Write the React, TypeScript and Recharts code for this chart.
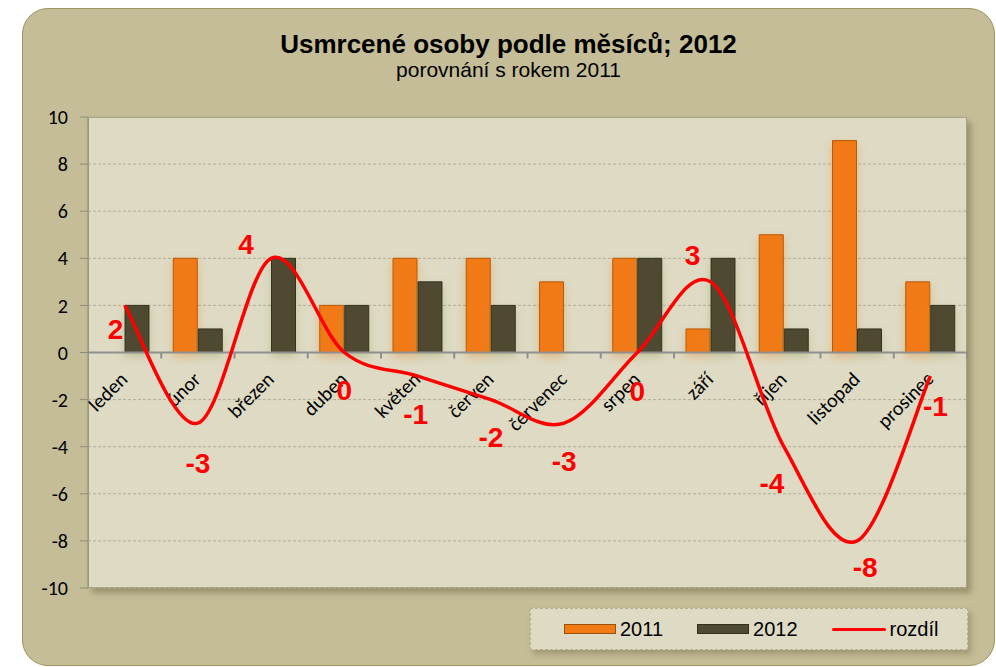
import React from "react";
import {
  ComposedChart,
  Bar,
  Line,
  XAxis,
  YAxis,
  CartesianGrid,
  ReferenceLine,
  Legend,
  LabelList,
} from "recharts";

const months = [
  "leden",
  "únor",
  "březen",
  "duben",
  "květen",
  "červen",
  "červenec",
  "srpen",
  "září",
  "říjen",
  "listopad",
  "prosinec",
];
const deaths2011 = [0, 4, 0, 2, 4, 4, 3, 4, 1, 5, 9, 3];
const deaths2012 = [2, 1, 4, 2, 3, 2, 0, 4, 4, 1, 1, 2];
const difference = [2, -3, 4, 0, -1, -2, -3, 0, 3, -4, -8, -1];
const yTicks = [-10, -8, -6, -4, -2, 0, 2, 4, 6, 8, 10];

// where each red label sits relative to its point (dx, dy)
const diffLabelShift: [number, number][] = [
  [-9, 24],
  [0, 40],
  [-25, -14],
  [0, 38],
  [-2, 38],
  [0, 38],
  [0, 38],
  [0, 39],
  [-18, -26],
  [-12, 37],
  [8, 27],
  [5, 30],
];

const data = months.map((month, i) => ({
  month,
  "2011": deaths2011[i],
  "2012": deaths2012[i],
  "rozdíl": difference[i],
}));

const CALIBRI = "Carlito, Lato, 'Open Sans', sans-serif";
const ARIAL = "'Liberation Sans', Arial, sans-serif";

// Excel-style smoothed line (Catmull-Rom as cubic beziers)
function excelSmooth(context: any) {
  let pts: number[][] = [];
  return {
    areaStart() {},
    areaEnd() {},
    lineStart() {
      pts = [];
    },
    point(x: number, y: number) {
      pts.push([+x, +y]);
    },
    lineEnd() {
      if (!pts.length) return;
      context.moveTo(pts[0][0], pts[0][1]);
      for (let i = 0; i < pts.length - 1; i++) {
        const p0 = pts[Math.max(i - 1, 0)];
        const p1 = pts[i];
        const p2 = pts[i + 1];
        const p3 = pts[Math.min(i + 2, pts.length - 1)];
        context.bezierCurveTo(
          p1[0] + (p2[0] - p0[0]) / 6,
          p1[1] + (p2[1] - p0[1]) / 6,
          p2[0] - (p3[0] - p1[0]) / 6,
          p2[1] - (p3[1] - p1[1]) / 6,
          p2[0],
          p2[1]
        );
      }
    },
  };
}

// category labels + ticks drawn along the zero line
function MonthAxis(props: any) {
  const vb = props.viewBox;
  if (!vb) return null;
  const { x, y, width } = vb;
  const band = width / months.length;
  return (
    <g>
      {months.map((m, i) => {
        const cx = x + band * (i + 0.5);
        const tx = cx + 4;
        const ty = y + 28;
        return (
          <g key={m}>
            <line
              x1={x + band * (i + 1)}
              x2={x + band * (i + 1)}
              y1={y}
              y2={y + 6}
              stroke="#8f8f8f"
              strokeWidth={2}
            />
            <text
              x={tx}
              y={ty}
              textAnchor="end"
              transform={`rotate(-45 ${tx} ${ty})`}
              fontFamily={CALIBRI}
              fontSize={20}
              fill="#000"
            >
              {m}
            </text>
          </g>
        );
      })}
    </g>
  );
}

function DiffLabel(props: any) {
  const { x, y, value, index } = props;
  const [dx, dy] = diffLabelShift[index] || [0, 38];
  return (
    <text
      x={x + dx}
      y={y + dy}
      textAnchor="middle"
      dominantBaseline="central"
      fontFamily={ARIAL}
      fontWeight="bold"
      fontSize={28}
      fill="#ff0000"
    >
      {value}
    </text>
  );
}

function LegendBox(props: any) {
  const payload = props.payload || [];
  return (
    <div
      style={{
        boxSizing: "border-box",
        width: 438,
        height: 42,
        background: "#dedac4",
        border: "1px dashed #b6b08c",
        boxShadow: "3px 4px 6px rgba(90,80,40,0.35)",
        display: "flex",
        alignItems: "center",
        paddingLeft: 33,
        fontFamily: ARIAL,
        fontSize: 20,
        color: "#000",
      }}
    >
      {payload.map((entry: any) => (
        <div
          key={entry.value}
          style={{ display: "flex", alignItems: "center", marginRight: 34 }}
        >
          {entry.type === "line" ? (
            <span
              style={{
                display: "inline-block",
                width: 54,
                height: 3,
                background: entry.color,
                borderRadius: 2,
              }}
            />
          ) : (
            <span
              style={{
                display: "inline-block",
                boxSizing: "border-box",
                width: 52,
                height: 10,
                background: entry.color,
                border: "1px solid rgba(0,0,0,0.35)",
              }}
            />
          )}
          <span style={{ marginLeft: 4 }}>{entry.value}</span>
        </div>
      ))}
    </div>
  );
}

export default function App() {
  return (
    <div style={{ position: "absolute", left: 0, top: 0, width: 996, height: 667, overflow: "hidden" }}>
      <div
        style={{
          position: "absolute",
          left: 22,
          top: 8,
          width: 973,
          height: 658,
          boxSizing: "border-box",
          background: "#c5bd98",
          border: "1px solid #9d9461",
          borderRadius: 26,
        }}
      />
      <div
        style={{
          position: "absolute",
          left: 88,
          top: 117,
          width: 879,
          height: 471,
          boxSizing: "border-box",
          background: "#dedac4",
          border: "1px solid #a8a27c",
          boxShadow: "4px 5px 6px rgba(100,90,50,0.45)",
        }}
      />
      <div
        style={{
          position: "absolute",
          left: 22,
          width: 973,
          top: 29,
          textAlign: "center",
          fontFamily: ARIAL,
          fontWeight: "bold",
          fontSize: 26,
          lineHeight: "30px",
          color: "#000",
        }}
      >
        Usmrcené osoby podle měsíců; 2012
      </div>
      <div
        style={{
          position: "absolute",
          left: 22,
          width: 973,
          top: 58,
          textAlign: "center",
          fontFamily: ARIAL,
          fontSize: 21,
          lineHeight: "24px",
          color: "#000",
        }}
      >
        porovnání s rokem 2011
      </div>
      <div style={{ position: "absolute", left: 0, top: 0 }}>
        <ComposedChart
          width={996}
          height={667}
          data={data}
          margin={{ top: 117, right: 29, bottom: 79, left: 28 }}
          barGap={1}
        >
          <defs>
            <filter id="shadowOrange" x="-50%" y="-50%" width="200%" height="200%">
              <feDropShadow dx="0" dy="4" stdDeviation="4" floodColor="#e07a20" floodOpacity="0.35" />
            </filter>
            <filter id="shadowDark" x="-50%" y="-50%" width="200%" height="200%">
              <feDropShadow dx="0" dy="4" stdDeviation="4" floodColor="#8a9a50" floodOpacity="0.35" />
            </filter>
          </defs>
          <CartesianGrid
            vertical={false}
            stroke="#b0ad98"
            strokeDasharray="3 2"
            fill="none"
          />
          <XAxis dataKey="month" hide />
          <YAxis
            domain={[-10, 10]}
            ticks={yTicks}
            interval={0}
            width={60}
            tickSize={8}
            tickMargin={12}
            axisLine={{ stroke: "#8e8b78" }}
            tickLine={{ stroke: "#8e8b78" }}
            tick={{ fontFamily: CALIBRI, fontSize: 20, fill: "#000" }}
          />
          <Bar
            dataKey="2011"
            fill="#f27a12"
            stroke="#b85a0a"
            strokeWidth={1}
            barSize={24}
            filter="url(#shadowOrange)"
            isAnimationActive={false}
          />
          <Bar
            dataKey="2012"
            fill="#4f4a31"
            stroke="#34311e"
            strokeWidth={1}
            barSize={24}
            filter="url(#shadowDark)"
            isAnimationActive={false}
          />
          <ReferenceLine
            y={0}
            stroke="#8f8f8f"
            strokeWidth={2}
            label={(p: any) => <MonthAxis {...p} />}
          />
          <Line
            dataKey="rozdíl"
            type={excelSmooth as any}
            stroke="#ff0000"
            strokeWidth={3.5}
            dot={false}
            activeDot={false}
            isAnimationActive={false}
          >
            <LabelList dataKey="rozdíl" content={(p: any) => <DiffLabel {...p} />} />
          </Line>
          <Legend
            layout="vertical"
            align="center"
            verticalAlign="middle"
            wrapperStyle={{ left: 530, top: 608, width: 438, height: 42 }}
            content={(p: any) => <LegendBox {...p} />}
          />
        </ComposedChart>
      </div>
    </div>
  );
}
